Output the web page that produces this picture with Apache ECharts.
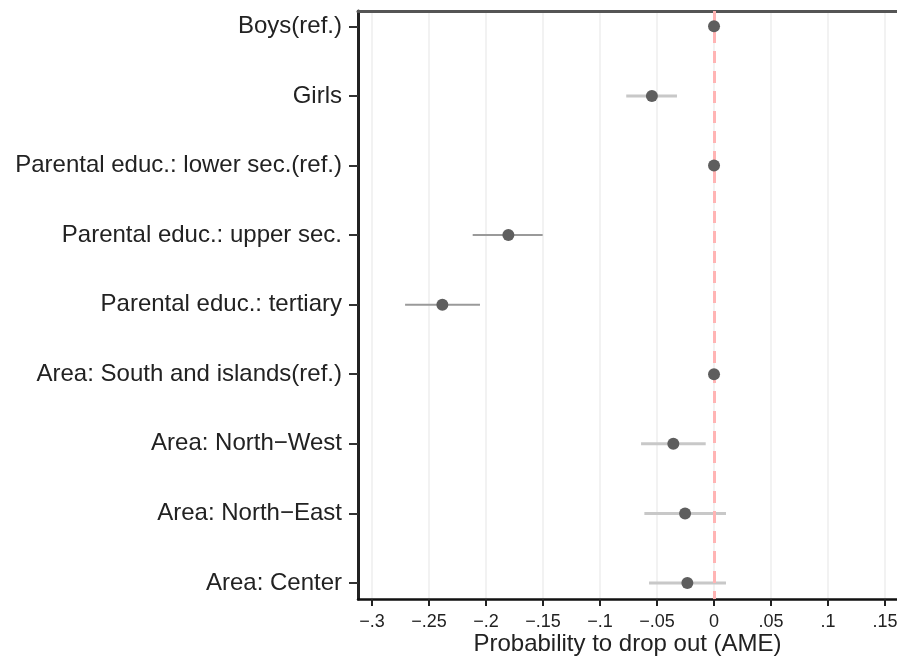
<!DOCTYPE html>
<html>
<head>
<meta charset="utf-8">
<script src="https://cdn.jsdelivr.net/npm/echarts@6/dist/echarts.min.js"></script>
<style>html,body{margin:0;padding:0;background:#fff}#c{width:897px;height:657px}</style>
</head>
<body>
<div id="c"></div>
<script>
const categories = ["Boys(ref.)","Girls","Parental educ.: lower sec.(ref.)","Parental educ.: upper sec.","Parental educ.: tertiary","Area: South and islands(ref.)","Area: North\u2212West","Area: North\u2212East","Area: Center"];
const estimates = [0, -0.0545, 0, -0.1804, -0.2383, 0, -0.0357, -0.0254, -0.0234];
const ciLow = [null, -0.077, null, -0.2117, -0.271, null, -0.064, -0.0611, -0.057];
const ciHigh = [null, -0.0325, null, -0.1503, -0.2053, null, -0.0073, 0.0105, 0.0105];
const ciColor = ["#c8c8c8","#c8c8c8","#c8c8c8","#9a9a9a","#9a9a9a","#c8c8c8","#c8c8c8","#c8c8c8","#c8c8c8"];
const ciWidth = [3,3,3,2,2,3,3,3,3];
const xTicks = [-0.3,-0.25,-0.2,-0.15,-0.1,-0.05,0,0.05,0.1,0.15];
const xTickLabels = ["\u2212.3","\u2212.25","\u2212.2","\u2212.15","\u2212.1","\u2212.05","0",".05",".1",".15"];
const xTitle = "Probability to drop out (AME)";

const idx = categories.map((_, i) => i);
const ciData = idx.filter(i => ciLow[i] !== null).map(i => [ciLow[i], ciHigh[i], i]);
const ptData = idx.map(i => [estimates[i], i]);

const chart = echarts.init(document.getElementById('c'), null, {renderer:'canvas'});
const font = "'Liberation Sans', Arial, Helvetica, sans-serif";
chart.setOption({
  animation:false,
  backgroundColor:'#fff',
  grid:{left:358, right:0, top:11, bottom:58, containLabel:false, outerBoundsMode:'none'},
  xAxis:[{
    type:'value', min:-0.3123, max:0.1605,
    axisLine:{show:true, onZero:false, lineStyle:{color:'#111', width:2.5}},
    axisTick:{show:true, length:7, customValues:xTicks, lineStyle:{color:'#222', width:2}},
    axisLabel:{customValues:xTicks, margin:14, fontSize:18, fontFamily:font, color:'#222',
      formatter:function(v){ const k = xTicks.findIndex(t => Math.abs(t-v)<1e-9); return k>=0 ? xTickLabels[k] : ''; }},
    splitLine:{show:true, lineStyle:{color:'#f2f2f2', width:2}},
    name:xTitle, nameLocation:'middle', nameGap:33, nameMoveOverlap:false,
    nameTextStyle:{fontSize:24, fontFamily:font, color:'#222'}
  },{
    type:'value', position:'top', min:-0.3123, max:0.1605,
    axisLine:{show:true, onZero:false, lineStyle:{color:'#555', width:3}},
    axisTick:{show:false}, axisLabel:{show:false}, splitLine:{show:false}
  }],
  yAxis:{
    type:'value', inverse:true, min:-0.22, max:8.23,
    axisLine:{show:true, onZero:false, lineStyle:{color:'#222', width:3}},
    axisTick:{show:true, length:9, customValues:idx, lineStyle:{color:'#333', width:2}},
    axisLabel:{customValues:idx, margin:16, fontSize:24, fontFamily:font, color:'#222',
      formatter:function(v){ return categories[Math.round(v)]; }},
    splitLine:{show:false}
  },
  series:[
    {
      type:'custom', xAxisIndex:0, yAxisIndex:0, data:ciData, z:2,
      renderItem:function(params, api){
        const a = api.coord([api.value(0), api.value(2)]);
        const b = api.coord([api.value(1), api.value(2)]);
        const i = api.value(2);
        return {type:'line', shape:{x1:a[0], y1:a[1], x2:b[0], y2:b[1]},
          style:{stroke:ciColor[i], lineWidth:ciWidth[i]}};
      },
      encode:{x:[0,1], y:2}
    },
    {
      type:'scatter', xAxisIndex:0, yAxisIndex:0, data:ptData, symbolSize:12, z:5,
      itemStyle:{color:'#5e5e5e', opacity:1},
      markLine:{silent:true, symbol:['none','none'], label:{show:false},
        lineStyle:{color:'#ffb4b4', type:[12,8], width:3},
        data:[{xAxis:0}]}
    }
  ]
});
</script>
</body>
</html>
